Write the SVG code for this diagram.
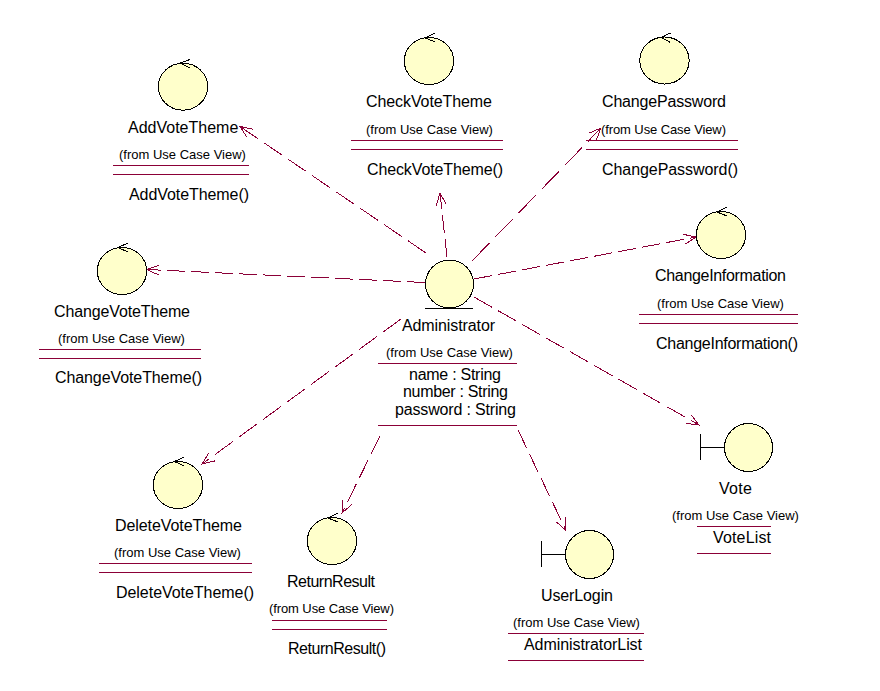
<svg xmlns="http://www.w3.org/2000/svg" width="880" height="691" viewBox="0 0 880 691">
<style>
text{font-family:"Liberation Sans",Arial,sans-serif;fill:#000;white-space:pre}
.n{font-size:16px}
.s{font-size:13px}
.c{fill:#ffffcb;stroke:#000;stroke-width:1;shape-rendering:crispEdges}
.k{fill:none;stroke:#000;stroke-width:1;shape-rendering:crispEdges}
.r{stroke:#8b0037;stroke-width:1;fill:none;shape-rendering:crispEdges}
.d{stroke:#8b0037;stroke-width:1;fill:none;shape-rendering:crispEdges}
</style>
<defs>
<marker id="a" viewBox="0 0 14 12" refX="13" refY="6" markerWidth="14" markerHeight="12" markerUnits="userSpaceOnUse" orient="auto"><path d="M1 1L13 6L1 11" fill="none" stroke="#8b0037" stroke-width="1" shape-rendering="crispEdges"/></marker>
</defs>
<rect width="880" height="691" fill="#fff"/>
<g id="connectors">
<path class="d" stroke-dasharray="21.800 7.300" marker-end="url(#a)" d="M426 253L240 126.500"/>
<path class="d" stroke-dasharray="18 6" marker-end="url(#a)" d="M447 257L440 193"/>
<path class="d" stroke-dasharray="25 8.300" marker-end="url(#a)" d="M472 261L601 128"/>
<path class="d" stroke-dasharray="18.300 6.100" marker-end="url(#a)" d="M474 279L696 237"/>
<path class="d" stroke-dasharray="20.800 6.900" marker-end="url(#a)" d="M474 297L699 425"/>
<path class="d" stroke-dasharray="20 6.700" marker-end="url(#a)" d="M518 430L566 530.500"/>
<path class="d" stroke-dasharray="20 6.700" marker-end="url(#a)" d="M380 436L342 513"/>
<path class="d" stroke-dasharray="22.300 7.400" marker-end="url(#a)" d="M401 319L202 464"/>
<path class="d" stroke-dasharray="18 6" marker-end="url(#a)" d="M425 282.500L147 269.500"/>
</g>
<g id="AddVoteTheme">
<ellipse class="c" cx="183" cy="86.700" rx="24.700" ry="23.500"/><path class="k" d="M190 59.500L180 63L190 68"/>
<text class="n" x="128" y="133">AddVoteTheme</text><text class="s" x="119" y="159">(from Use Case View)</text>
<path class="r" d="M113 165.500H249M113 174.500H249"/>
<text class="n" x="129" y="200" textLength="120">AddVoteTheme()</text>
</g>
<g id="CheckVoteTheme">
<ellipse class="c" cx="429" cy="61" rx="24.700" ry="23.500"/><path class="k" d="M435 33L425.500 38L435 42"/>
<text class="n" x="366" y="107" textLength="126">CheckVoteTheme</text><text class="s" x="366" y="134">(from Use Case View)</text>
<path class="r" d="M351 140.500H503M351 149.500H503"/>
<text class="n" x="367" y="175" textLength="136">CheckVoteTheme()</text>
</g>
<g id="ChangePassword">
<ellipse class="c" cx="664.500" cy="60.500" rx="24.700" ry="23.500"/><path class="k" d="M670.500 33L661 37.500L670.500 42.500"/>
<text class="n" x="602" y="107" textLength="124">ChangePassword</text><text class="s" x="601" y="134" textLength="125">(from Use Case View)</text>
<path class="r" d="M586 140.500H738M586 149.500H738"/>
<text class="n" x="602" y="175" textLength="136">ChangePassword()</text>
</g>
<g id="ChangeInformation">
<ellipse class="c" cx="721" cy="235" rx="24.700" ry="23.500"/><path class="k" d="M727 207L717 212L727 216"/>
<text class="n" x="655" y="281" textLength="131">ChangeInformation</text><text class="s" x="657" y="308">(from Use Case View)</text>
<path class="r" d="M639 314.500H798M639 323.500H798"/>
<text class="n" x="656" y="349" textLength="142">ChangeInformation()</text>
</g>
<g id="ChangeVoteTheme">
<ellipse class="c" cx="122" cy="271" rx="24.700" ry="23.500"/><path class="k" d="M128 243L118 247.500L128 252"/>
<text class="n" x="54" y="317" textLength="136">ChangeVoteTheme</text><text class="s" x="58" y="343">(from Use Case View)</text>
<path class="r" d="M39 349.500H201M39 358.500H201"/>
<text class="n" x="55" y="383" textLength="147">ChangeVoteTheme()</text>
</g>
<g id="Administrator">
<circle class="c" cx="449.500" cy="284" r="24"/><path class="k" d="M425 308.500H473"/>
<text class="n" x="402" y="331" textLength="93">Administrator</text><text class="s" x="386" y="357">(from Use Case View)</text>
<path class="r" d="M378 363.500H517M378 425.500H517"/>
<text class="n" x="409" y="380" textLength="92">name : String</text>
<text class="n" x="403" y="397" textLength="105">number : String</text>
<text class="n" x="395" y="415" textLength="121">password : String</text>
</g>
<g id="DeleteVoteTheme">
<ellipse class="c" cx="178" cy="485" rx="24.700" ry="23.500"/><path class="k" d="M184 457L174.500 461.500L184 466"/>
<text class="n" x="115" y="531" textLength="127">DeleteVoteTheme</text><text class="s" x="114" y="557">(from Use Case View)</text>
<path class="r" d="M99 563.500H252M99 572.500H252"/>
<text class="n" x="116" y="598" textLength="138">DeleteVoteTheme()</text>
</g>
<g id="ReturnResult">
<ellipse class="c" cx="332" cy="541" rx="24.700" ry="23.500"/><path class="k" d="M338 513L328 518L338 522"/>
<text class="n" x="287" y="587" textLength="88">ReturnResult</text><text class="s" x="269" y="613" textLength="125">(from Use Case View)</text>
<path class="r" d="M272 620.500H387M272 629.500H387"/>
<text class="n" x="288" y="654" textLength="98">ReturnResult()</text>
</g>
<g id="UserLogin">
<circle class="c" cx="589.500" cy="554.500" r="24"/><path class="k" d="M541.500 541V567M541.500 554.500H565"/>
<text class="n" x="541" y="601" textLength="72">UserLogin</text><text class="s" x="513" y="627">(from Use Case View)</text>
<path class="r" d="M508 633.500H644M508 660.500H644"/>
<text class="n" x="524" y="650" textLength="118">AdministratorList</text>
</g>
<g id="Vote">
<circle class="c" cx="748.500" cy="447.500" r="24"/><path class="k" d="M700.500 434V460M700.500 447.500H724"/>
<text class="n" x="719" y="494" textLength="33">Vote</text><text class="s" x="672" y="520">(from Use Case View)</text>
<path class="r" d="M697 526.500H771M697 553.500H771"/>
<text class="n" x="713" y="543" textLength="58">VoteList</text>
</g>
</svg>
